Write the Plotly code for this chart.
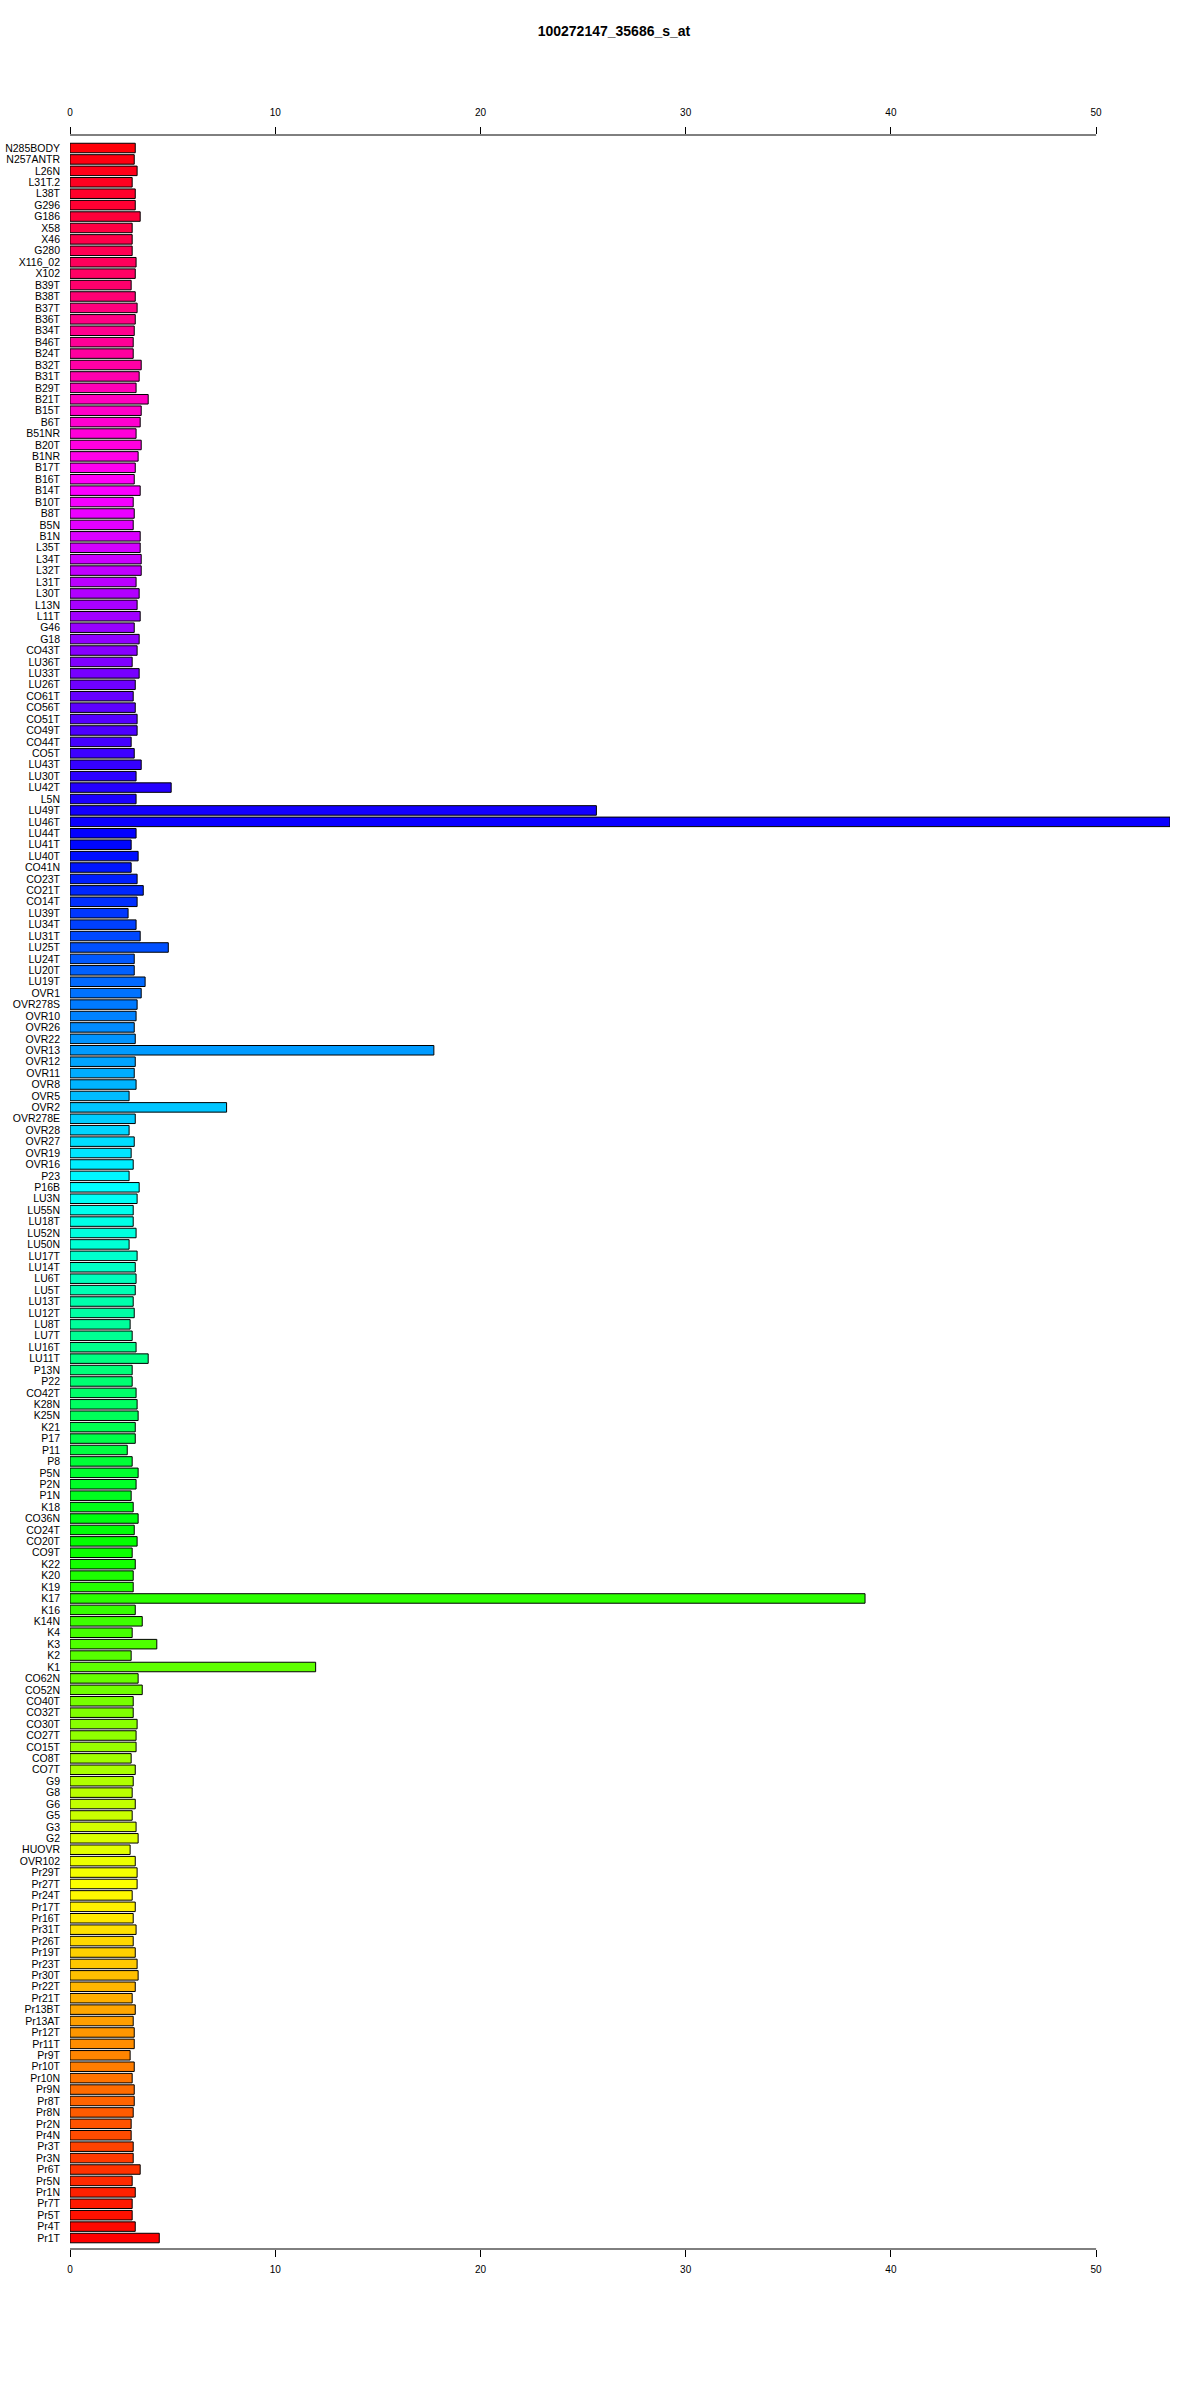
import colorsys
import plotly.graph_objects as go

title = "100272147_35686_s_at"

samples = [
    "N285BODY", "N257ANTR", "L26N", "L31T.2", "L38T", "G296", "G186", "X58", "X46", "G280",
    "X116_02", "X102", "B39T", "B38T", "B37T", "B36T",
    "B34T", "B46T", "B24T", "B32T", "B31T", "B29T", "B21T", "B15T", "B6T", "B51NR",
    "B20T", "B1NR", "B17T", "B16T", "B14T", "B10T", "B8T",
    "B5N", "B1N", "L35T", "L34T", "L32T", "L31T", "L30T", "L13N", "L11T", "G46",
    "G18", "CO43T", "LU36T", "LU33T", "LU26T", "CO61T", "CO56T",
    "CO51T", "CO49T", "CO44T", "CO5T", "LU43T", "LU30T", "LU42T", "L5N", "LU49T", "LU46T",
    "LU44T", "LU41T", "LU40T", "CO41N", "CO23T", "CO21T",
    "CO14T", "LU39T", "LU34T", "LU31T", "LU25T", "LU24T", "LU20T", "LU19T", "OVR1", "OVR278S",
    "OVR10", "OVR26", "OVR22", "OVR13", "OVR12", "OVR11", "OVR8",
    "OVR5", "OVR2", "OVR278E", "OVR28", "OVR27", "OVR19", "OVR16", "P23", "P16B", "LU3N",
    "LU55N", "LU18T", "LU52N", "LU50N", "LU17T", "LU14T",
    "LU6T", "LU5T", "LU13T", "LU12T", "LU8T", "LU7T", "LU16T", "LU11T", "P13N", "P22",
    "CO42T", "K28N", "K25N", "K21", "P17", "P11", "P8",
    "P5N", "P2N", "P1N", "K18", "CO36N", "CO24T", "CO20T", "CO9T", "K22", "K20",
    "K19", "K17", "K16", "K14N", "K4", "K3", "K2",
    "K1", "CO62N", "CO52N", "CO40T", "CO32T", "CO30T", "CO27T", "CO15T", "CO8T", "CO7T",
    "G9", "G8", "G6", "G5", "G3", "G2", "HUOVR",
    "OVR102", "Pr29T", "Pr27T", "Pr24T", "Pr17T", "Pr16T", "Pr31T", "Pr26T", "Pr19T", "Pr23T",
    "Pr30T", "Pr22T", "Pr21T", "Pr13BT", "Pr13AT", "Pr12T",
    "Pr11T", "Pr9T", "Pr10T", "Pr10N", "Pr9N", "Pr8T", "Pr8N", "Pr2N", "Pr4N", "Pr3T",
    "Pr3N", "Pr6T", "Pr5N", "Pr1N", "Pr7T", "Pr5T", "Pr4T", "Pr1T",
]

values = [
    3.18, 3.13, 3.27, 3.03, 3.18, 3.18, 3.42, 3.03, 3.03, 3.03,
    3.22, 3.18, 2.98, 3.18, 3.27, 3.18,
    3.13, 3.08, 3.08, 3.47, 3.37, 3.22, 3.81, 3.47, 3.42, 3.22,
    3.47, 3.32, 3.18, 3.13, 3.42, 3.08, 3.13,
    3.08, 3.42, 3.42, 3.47, 3.47, 3.22, 3.37, 3.27, 3.42, 3.13,
    3.37, 3.27, 3.03, 3.37, 3.18, 3.08, 3.18,
    3.27, 3.27, 2.98, 3.13, 3.47, 3.22, 4.93, 3.22, 25.65, 53.6,
    3.22, 2.98, 3.32, 2.98, 3.27, 3.57,
    3.27, 2.83, 3.22, 3.42, 4.79, 3.13, 3.13, 3.66, 3.47, 3.27,
    3.22, 3.13, 3.18, 17.73, 3.18, 3.13, 3.22,
    2.88, 7.63, 3.18, 2.88, 3.13, 2.98, 3.08, 2.88, 3.37, 3.27,
    3.08, 3.08, 3.22, 2.88, 3.27, 3.18,
    3.22, 3.18, 3.08, 3.13, 2.93, 3.03, 3.22, 3.81, 3.03, 3.03,
    3.22, 3.27, 3.32, 3.18, 3.18, 2.79, 3.03,
    3.32, 3.22, 2.98, 3.08, 3.32, 3.13, 3.27, 3.03, 3.18, 3.08,
    3.08, 38.74, 3.18, 3.52, 3.03, 4.23, 2.98,
    11.97, 3.32, 3.52, 3.08, 3.08, 3.27, 3.22, 3.22, 2.98, 3.18,
    3.08, 3.03, 3.18, 3.03, 3.22, 3.32, 2.93,
    3.18, 3.27, 3.27, 3.03, 3.18, 3.08, 3.22, 3.08, 3.18, 3.27,
    3.32, 3.18, 3.03, 3.18, 3.08, 3.13,
    3.13, 2.93, 3.13, 3.03, 3.13, 3.13, 3.08, 2.98, 2.98, 3.08,
    3.08, 3.42, 3.03, 3.18, 3.03, 3.03, 3.18, 4.35,
]

x_ticks = [0, 10, 20, 30, 40, 50]
x_max = 53.6

n = len(samples)
# rainbow palette: bottom bar red, going up through yellow, green, cyan, blue, magenta
colors = []
for j in range(n):
    h = (n - 1 - j) / n
    r, g, b = colorsys.hsv_to_rgb(h, 1, 1)
    colors.append("rgb(%d,%d,%d)" % (round(r * 255), round(g * 255), round(b * 255)))

ypos = list(range(n))

fig = go.Figure()
fig.add_trace(go.Bar(
    x=values, y=ypos, orientation="h",
    marker=dict(color=colors, line=dict(color="black", width=1)),
    width=0.833, showlegend=False, hoverinfo="x",
))
# invisible trace to anchor the bottom axis
fig.add_trace(go.Scatter(x=[0, x_max], y=[0, 0], xaxis="x2", mode="markers",
                         marker=dict(opacity=0), showlegend=False, hoverinfo="skip"))

font_family = "Liberation Sans, Arial, sans-serif"

fig.update_layout(
    width=1200, height=2400,
    margin=dict(l=70, r=30, t=135, b=151, autoexpand=False),
    paper_bgcolor="white", plot_bgcolor="white",
    title=dict(text="<b>" + title + "</b>", x=614 / 1200, xanchor="center",
               xref="container", yref="container",
               y=1 - 31 / 2400, yanchor="middle",
               font=dict(family=font_family, size=14, color="black")),
    font=dict(family=font_family, size=10, color="black"),
    xaxis=dict(side="top", range=[0, x_max], tickvals=x_ticks, ticktext=[str(t) for t in x_ticks],
               ticks="outside", ticklen=7, tickwidth=1, tickcolor="black",
               ticklabelstandoff=7, automargin=False,
               showgrid=False, zeroline=False, showline=False,
               tickfont=dict(size=10, family=font_family)),
    xaxis2=dict(side="bottom", overlaying="x", anchor="y", range=[0, x_max], matches="x",
                tickvals=x_ticks, ticktext=[str(t) for t in x_ticks],
                ticks="outside", ticklen=7, tickwidth=1, tickcolor="black",
                ticklabelstandoff=4, automargin=False,
                showgrid=False, zeroline=False, showline=False,
                tickfont=dict(size=10, family=font_family)),
    yaxis=dict(range=[n - 1 + 0.96, -1.14], tickvals=ypos, ticktext=samples,
               showgrid=False, zeroline=False, showline=False, ticks="",
               ticklabelstandoff=9, automargin=False,
               tickfont=dict(size=10.5, family=font_family)),
    bargap=0.17,
)

# axis lines spanning only the tick range (as in base R axes)
for yv in (0, 1):
    fig.add_shape(type="line", xref="x", yref="paper", x0=x_ticks[0], x1=x_ticks[-1],
                  y0=yv, y1=yv, line=dict(color="black", width=1))

fig.write_html("out.html", config={"displayModeBar": False},
               post_script="document.body.style.margin='0px';document.body.style.padding='0px';")
